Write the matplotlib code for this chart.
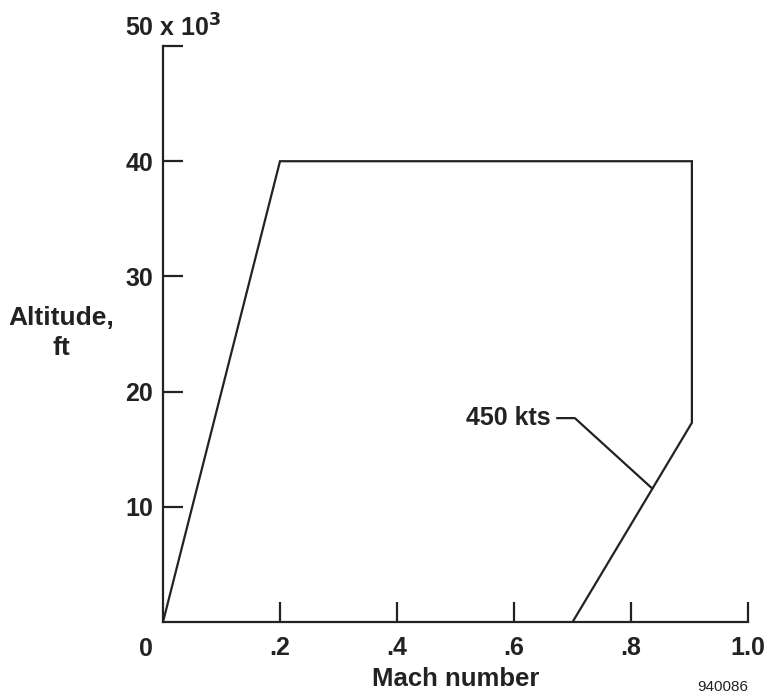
import matplotlib
matplotlib.use("Agg")
import matplotlib.pyplot as plt

# flight envelope, Mach vs altitude (thousands of ft)
mach = [0.0, 0.2, 0.904, 0.904, 0.70]
alt = [0.0, 40.0, 40.0, 17.3, 0.0]

xticks = [0.2, 0.4, 0.6, 0.8, 1.0]
xlabels = [".2", ".4", ".6", ".8", "1.0"]
yticks = [10, 20, 30, 40, 50]
ylabels = ["10", "20", "30", "40", ""]

# 450 kts leader: text end -> knee -> point on the line
leader_x = [0.674, 0.704, 0.836]
leader_y = [17.7, 17.7, 11.6]

plt.rcParams['font.family'] = ['Liberation Sans', 'DejaVu Sans']
plt.rcParams['font.weight'] = 'bold'
plt.rcParams['axes.labelweight'] = 'bold'
plt.rcParams['mathtext.default'] = 'bf'

ink = '#222222'

fig = plt.figure(figsize=(7.67, 6.94), dpi=100)
ax = fig.add_axes([0.2125, 0.1037, 0.7628, 0.830])

ax.plot(mach, alt, color=ink, linewidth=1.6, solid_joinstyle='miter')
ax.plot(leader_x, leader_y, color=ink, linewidth=1.6)

ax.set_xlim(0, 1.0)
ax.set_ylim(0, 50)
ax.spines['top'].set_visible(False)
ax.spines['right'].set_visible(False)
for s in ['left', 'bottom']:
    ax.spines[s].set_linewidth(1.6)
    ax.spines[s].set_color(ink)

ax.set_xticks(xticks)
ax.set_xticklabels(xlabels)
ax.set_yticks(yticks)
ax.set_yticklabels(ylabels)
ax.tick_params(axis='both', direction='in', length=14.5, width=1.6,
               color=ink, labelsize=18, labelcolor=ink)
ax.tick_params(axis='x', pad=10)
ax.tick_params(axis='y', pad=7)

ax.annotate("0", xy=(0, 0), xytext=(-12, -10.5), textcoords='offset points',
            ha='center', va='top', fontsize=18, color=ink)
ax.annotate("50 x 10$^{3}$", xy=(0, 50), xytext=(-27, 3), textcoords='offset points',
            ha='left', va='bottom', fontsize=18, color=ink)

ax.text(0.662, 17.7, "450 kts", ha='right', va='center', fontsize=18, color=ink)

ax.set_xlabel("Mach number", fontsize=18.5, color=ink, labelpad=5)
ax.text(-0.174, 25.1, "Altitude,\nft", ha='center', va='center', fontsize=19,
        color=ink, linespacing=1.3)

fig.text(0.975, 0.0, "940086", ha='right', va='bottom', fontsize=11,
         fontweight='normal', color=ink)

fig.savefig("out.png", dpi=100, facecolor='white')
